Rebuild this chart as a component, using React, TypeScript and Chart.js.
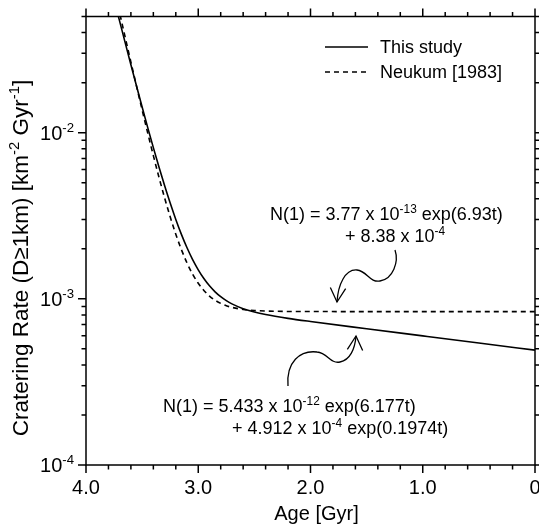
import { useEffect, useRef } from "react";
import { Chart, registerables } from "chart.js";

Chart.register(...registerables);

// Age [Gyr] sample points (older -> younger)
const AGES = [3.75, 3.7, 3.65, 3.6, 3.55, 3.5, 3.45, 3.4, 3.35, 3.3, 3.25, 3.2, 3.15, 3.1, 3.05, 3.0, 2.95, 2.9, 2.85, 2.8, 2.75, 2.7, 2.6, 2.5, 2.4, 2.2, 2.0, 1.5, 1.0, 0.5, 0];
// Cratering rate [km^-2 Gyr^-1]
const THIS_STUDY = [6.327e-2, 4.672e-2, 3.457e-2, 2.564e-2, 1.908e-2, 1.4265e-2, 1.0726e-2, 8.124e-3, 6.211e-3, 4.804e-3, 3.769e-3, 3.006e-3, 2.444e-3, 2.028e-3, 1.721e-3, 1.494e-3, 1.324e-3, 1.197e-3, 1.102e-3, 1.03e-3, 9.745e-4, 9.32e-4, 8.719e-4, 8.322e-4, 8.038e-4, 7.627e-4, 7.303e-4, 6.606e-4, 5.984e-4, 5.421e-4, 4.912e-4];
const NEUKUM = [7.365e-2, 5.233e-2, 3.725e-2, 2.659e-2, 1.905e-2, 1.3714e-2, 9.943e-3, 7.277e-3, 5.391e-3, 4.058e-3, 3.115e-3, 2.448e-3, 1.977e-3, 1.643e-3, 1.407e-3, 1.241e-3, 1.123e-3, 1.039e-3, 9.804e-4, 9.387e-4, 9.092e-4, 8.884e-4, 8.632e-4, 8.506e-4, 8.443e-4, 8.396e-4, 8.384e-4, 8.38e-4, 8.38e-4, 8.38e-4, 8.38e-4];

const X_MIN = 0;
const X_MAX = 4;
const Y_MIN = 1e-4;
const Y_MAX = 5e-2;
const X_MAJOR = [4, 3, 2, 1, 0];
const X_TICK_LABELS = ["4.0", "3.0", "2.0", "1.0", "0"];
const X_MINOR_STEP = 0.2;
const Y_DECADES = [1e-4, 1e-3, 1e-2];
const Y_TICK_EXPONENTS = ["-4", "-3", "-2"];
const SERIES_LABELS = ["This study", "Neukum [1983]"];
const X_TITLE = "Age [Gyr]";

const FONT = '"Liberation Sans", Arial, Helvetica, sans-serif';

type Seg = { t: string; sup?: boolean };

function drawRich(ctx: CanvasRenderingContext2D, segs: Seg[], x: number, y: number, size: number, align: "left" | "center" | "right") {
  const supSize = size * 0.66;
  let w = 0;
  for (const s of segs) {
    ctx.font = `${s.sup ? supSize : size}px ${FONT}`;
    w += ctx.measureText(s.t).width;
  }
  let cx = align === "right" ? x - w : align === "center" ? x - w / 2 : x;
  ctx.textAlign = "left";
  ctx.textBaseline = "alphabetic";
  for (const s of segs) {
    ctx.font = `${s.sup ? supSize : size}px ${FONT}`;
    ctx.fillText(s.t, cx, s.sup ? y - size * 0.4 : y);
    cx += ctx.measureText(s.t).width;
  }
}

function arrowHead(ctx: CanvasRenderingContext2D, tx: number, ty: number, fx: number, fy: number, len: number) {
  const ang = Math.atan2(ty - fy, tx - fx);
  const spread = 0.5;
  ctx.beginPath();
  ctx.moveTo(tx - len * Math.cos(ang - spread), ty - len * Math.sin(ang - spread));
  ctx.lineTo(tx, ty);
  ctx.lineTo(tx - len * Math.cos(ang + spread), ty - len * Math.sin(ang + spread));
  ctx.stroke();
}

const decorPlugin = {
  id: "decor",
  afterDatasetsDraw(chart: any) {
    const ctx: CanvasRenderingContext2D = chart.ctx;
    const xs = chart.scales.x;
    const ys = chart.scales.y;
    const { left, right, top, bottom } = chart.chartArea;
    ctx.save();
    ctx.strokeStyle = "#000";
    ctx.fillStyle = "#000";
    ctx.lineWidth = 1.5;
    ctx.setLineDash([]);
    // frame
    ctx.strokeRect(left, top, right - left, bottom - top);

    // x ticks (outward on bottom and top)
    const nMinor = Math.round((X_MAX - X_MIN) / X_MINOR_STEP);
    for (let i = 0; i <= nMinor; i++) {
      const v = X_MIN + i * X_MINOR_STEP;
      const major = Math.abs(v - Math.round(v)) < 1e-6;
      const len = major ? 8 : 4.5;
      const px = xs.getPixelForValue(v);
      ctx.beginPath();
      ctx.moveTo(px, bottom);
      ctx.lineTo(px, bottom + len);
      ctx.moveTo(px, top);
      ctx.lineTo(px, top - len);
      ctx.stroke();
    }
    // y ticks (outward on left and right)
    for (let k = -4; k <= -2; k++) {
      for (let m = 1; m <= 9; m++) {
        const v = m * Math.pow(10, k);
        if (v > Y_MAX * 1.0001) continue;
        const len = m === 1 ? 8 : 4.5;
        const py = ys.getPixelForValue(v);
        ctx.beginPath();
        ctx.moveTo(left, py);
        ctx.lineTo(left - len, py);
        ctx.moveTo(right, py);
        ctx.lineTo(right + len, py);
        ctx.stroke();
      }
    }

    // x tick labels
    ctx.font = `20px ${FONT}`;
    ctx.textAlign = "center";
    ctx.textBaseline = "alphabetic";
    X_MAJOR.forEach((v, i) => {
      ctx.fillText(X_TICK_LABELS[i], xs.getPixelForValue(v), bottom + 29);
    });
    // y tick labels
    Y_DECADES.forEach((v, i) => {
      const py = ys.getPixelForValue(v);
      drawRich(ctx, [{ t: "10" }, { t: Y_TICK_EXPONENTS[i], sup: true }], left - 12, py + 7, 20, "right");
    });

    // axis titles
    drawRich(ctx, [{ t: X_TITLE }], (left + right) / 2 + 6, bottom + 55, 20, "center");
    ctx.save();
    ctx.translate(28, 258);
    ctx.rotate(-Math.PI / 2);
    drawRich(ctx, [{ t: "Cratering Rate (D≥1km) [km" }, { t: "-2", sup: true }, { t: " Gyr" }, { t: "-1", sup: true }, { t: "]" }], 0, 0, 22.5, "center");
    ctx.restore();

    // legend
    ctx.lineWidth = 1.5;
    ctx.beginPath();
    ctx.moveTo(325, 47);
    ctx.lineTo(368, 47);
    ctx.stroke();
    ctx.setLineDash([5, 4]);
    ctx.beginPath();
    ctx.moveTo(325, 72);
    ctx.lineTo(368, 72);
    ctx.stroke();
    ctx.setLineDash([]);
    drawRich(ctx, [{ t: SERIES_LABELS[0] }], 380, 53, 18, "left");
    drawRich(ctx, [{ t: SERIES_LABELS[1] }], 380, 78, 18, "left");

    // annotations
    drawRich(ctx, [{ t: "N(1) = 3.77 x 10" }, { t: "-13", sup: true }, { t: " exp(6.93t)" }], 270, 220, 18, "left");
    drawRich(ctx, [{ t: "+ 8.38 x 10" }, { t: "-4", sup: true }], 345, 242, 18, "left");
    drawRich(ctx, [{ t: "N(1) = 5.433 x 10" }, { t: "-12", sup: true }, { t: " exp(6.177t)" }], 163, 412, 18, "left");
    drawRich(ctx, [{ t: "+ 4.912 x 10" }, { t: "-4", sup: true }, { t: " exp(0.1974t)" }], 232, 434, 18, "left");

    // curly arrows
    ctx.lineWidth = 1.3;
    ctx.beginPath();
    ctx.moveTo(395, 250);
    ctx.bezierCurveTo(399, 262, 393, 279, 380, 281);
    ctx.bezierCurveTo(370, 283, 367, 271, 357, 270);
    ctx.bezierCurveTo(345, 269, 338, 285, 337, 302);
    ctx.stroke();
    arrowHead(ctx, 337, 302, 338, 288, 16);

    ctx.beginPath();
    ctx.moveTo(288, 386);
    ctx.bezierCurveTo(286, 362, 300, 350, 317, 352);
    ctx.bezierCurveTo(328, 353, 330, 364, 340, 362);
    ctx.bezierCurveTo(350, 360, 355, 349, 356, 336);
    ctx.stroke();
    arrowHead(ctx, 356, 336, 355, 350, 16);

    ctx.restore();
  },
};

export default function App() {
  const ref = useRef<HTMLCanvasElement | null>(null);
  useEffect(() => {
    if (!ref.current) return;
    const chart = new Chart(ref.current, {
      type: "line",
      data: {
        datasets: [
          {
            label: SERIES_LABELS[0],
            data: AGES.map((a, i) => ({ x: a, y: THIS_STUDY[i] })),
            borderColor: "#000",
            borderWidth: 1.6,
            pointRadius: 0,
            cubicInterpolationMode: "monotone",
            fill: false,
            clip: 0,
          },
          {
            label: SERIES_LABELS[1],
            data: AGES.map((a, i) => ({ x: a, y: NEUKUM[i] })),
            borderColor: "#000",
            borderWidth: 1.6,
            borderDash: [5, 4],
            pointRadius: 0,
            cubicInterpolationMode: "monotone",
            fill: false,
            clip: 0,
          },
        ],
      },
      options: {
        animation: false,
        responsive: false,
        devicePixelRatio: 1,
        layout: { padding: { left: 86, top: 16.5, right: 4, bottom: 60 } },
        plugins: { legend: { display: false }, tooltip: { enabled: false } },
        scales: {
          x: { type: "linear", min: X_MIN, max: X_MAX, reverse: true, display: false },
          y: { type: "logarithmic", min: Y_MIN, max: Y_MAX, display: false },
        },
      },
      plugins: [decorPlugin],
    } as any);
    return () => chart.destroy();
  }, []);
  return (
    <div style={{ position: "absolute", left: 0, top: 0, width: 539, height: 525, background: "#fff" }}>
      <canvas ref={ref} width={539} height={525} />
    </div>
  );
}
